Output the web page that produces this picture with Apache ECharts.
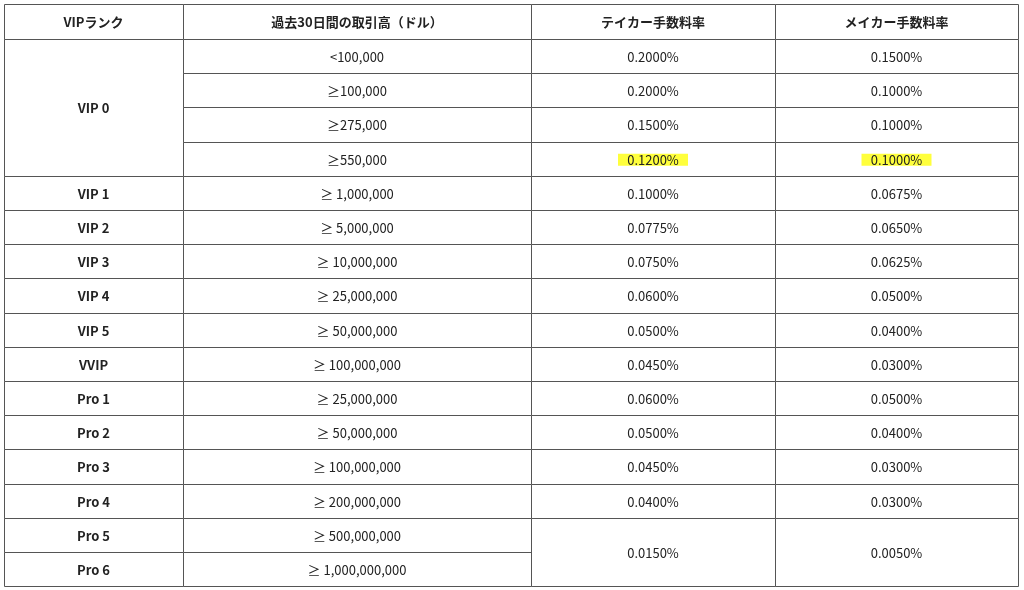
<!DOCTYPE html>
<html><head><meta charset="utf-8">
<script src="https://cdn.jsdelivr.net/npm/echarts@6/dist/echarts.min.js"></script>
<style>html,body{margin:0;padding:0;background:#fff}#c{width:1024px;height:590px}</style>
</head><body><div id="c"></div>
<script>
const headers = ["VIPランク", "過去30日間の取引高（ドル）", "テイカー手数料率", "メイカー手数料率"];
const ranks = ["VIP 0", null, null, null, "VIP 1", "VIP 2", "VIP 3", "VIP 4", "VIP 5", "VVIP", "Pro 1", "Pro 2", "Pro 3", "Pro 4", "Pro 5", "Pro 6"];
const volumes = ["<100,000", "≥100,000", "≥275,000", "≥550,000", "≥ 1,000,000", "≥ 5,000,000", "≥ 10,000,000", "≥ 25,000,000", "≥ 50,000,000", "≥ 100,000,000", "≥ 25,000,000", "≥ 50,000,000", "≥ 100,000,000", "≥ 200,000,000", "≥ 500,000,000", "≥ 1,000,000,000"];
const taker = ["0.2000%", "0.2000%", "0.1500%", "0.1200%", "0.1000%", "0.0775%", "0.0750%", "0.0600%", "0.0500%", "0.0450%", "0.0600%", "0.0500%", "0.0450%", "0.0400%", "0.0150%", null];
const maker = ["0.1500%", "0.1000%", "0.1000%", "0.1000%", "0.0675%", "0.0650%", "0.0625%", "0.0500%", "0.0400%", "0.0300%", "0.0500%", "0.0400%", "0.0300%", "0.0300%", "0.0050%", null];
const highlighted = ["0.1200%@3", "0.1000%@3"];

// layout
const colEdges = [4, 183, 531, 775, 1018];
const top0 = 4, headH = 35, rowH = 34.2;
function rowY(r) { return r === 0 ? top0 : top0 + headH + (r - 1) * rowH; }

const cells = [];
headers.forEach((h, i) => cells.push({c: i, r0: 0, r1: 1, text: h, bold: true}));
function span(arr, i) { let n = 1; while (i + n < arr.length && arr[i + n] === null) n++; return n; }
[ranks, volumes, taker, maker].forEach((arr, col) => {
  arr.forEach((v, i) => {
    if (v === null) return;
    const n = span(arr, i);
    cells.push({c: col, r0: i + 1, r1: i + 1 + n, text: v, bold: col === 0,
      hl: (col >= 2 && i === 3)});
  });
});

const chart = echarts.init(document.getElementById('c'));
chart.setOption({
  animation: false,
  grid: {left: 0, right: 0, top: 0, bottom: 0},
  xAxis: {type: 'value', min: 0, max: 1024, show: false},
  yAxis: {type: 'value', min: 0, max: 590, inverse: true, show: false},
  series: [{
    type: 'custom',
    data: cells.map(c => [c.c, c.r0, c.r1]),
    renderItem: function (params, api) {
      const cell = cells[params.dataIndex];
      const p0 = api.coord([colEdges[cell.c], rowY(cell.r0)]);
      const p1 = api.coord([colEdges[cell.c + 1], rowY(cell.r1)]);
      const cx = (p0[0] + p1[0]) / 2, cy = (p0[1] + p1[1]) / 2;
      const children = [{
        type: 'rect',
        shape: {x: p0[0] + 0.5, y: Math.round(p0[1]) + 0.5, width: p1[0] - p0[0], height: Math.round(p1[1]) - Math.round(p0[1])},
        style: {fill: '#fff', stroke: '#555', lineWidth: 1}
      }];
      if (cell.hl) {
        children.push({type: 'rect', shape: {x: cx - 35, y: cy - 5, width: 70, height: 12},
          style: {fill: '#ffff3c'}});
      }
      children.push({
        type: 'text', x: cx, y: cy + 1,
        style: {text: cell.text, align: 'center', verticalAlign: 'middle',
          font: (cell.bold ? 'bold ' : '') + '13px "Noto Sans CJK JP", "Noto Sans", sans-serif',
          fill: '#222'}
      });
      return {type: 'group', children: children};
    }
  }]
});
</script></body></html>
